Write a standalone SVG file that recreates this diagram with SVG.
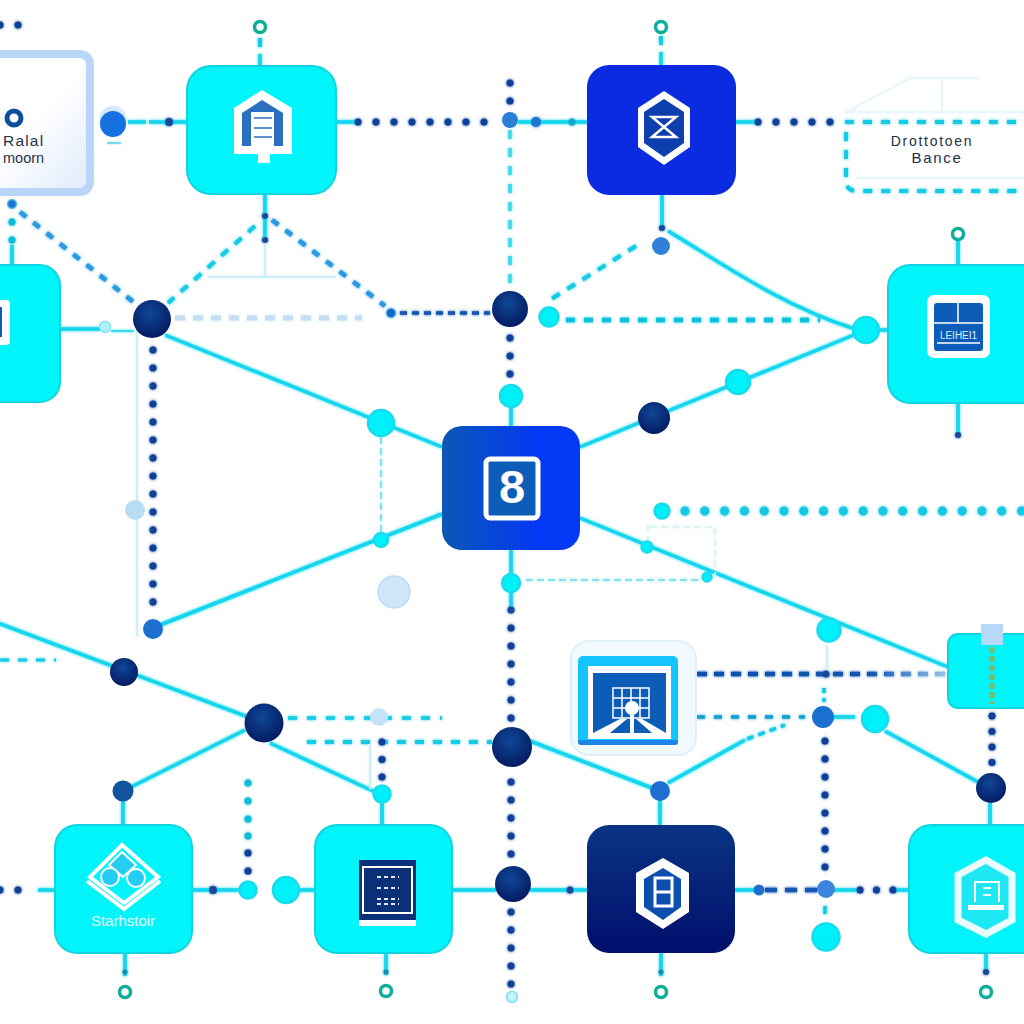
<svg xmlns="http://www.w3.org/2000/svg" width="1024" height="1024" viewBox="0 0 1024 1024">
<style>
text{font-family:"Liberation Sans","DejaVu Sans",sans-serif}
#connectors line,#connectors path{fill:none}
.s{stroke:#12d6ee;stroke-width:3.5}
.th{stroke:#c4ecf8;stroke-width:1.5}
.thd{stroke:#6fdcec;stroke-width:1.5;stroke-dasharray:7 4}
.nd{stroke:#0f3f96;stroke-width:7;stroke-linecap:round;stroke-dasharray:0 18}
.td{stroke:#10bcd8;stroke-width:7;stroke-linecap:round;stroke-dasharray:0 18}
.cd{stroke:#12cbe6;stroke-width:4;stroke-dasharray:9 9}
.bd{stroke:#2a9ae0;stroke-width:4.5;stroke-dasharray:8 9}
.bn{stroke:#1257b0;stroke-width:4.5;stroke-dasharray:10 7}
.pd{stroke:#c4dff5;stroke-width:5;stroke-dasharray:10 8}
.cy{fill:#00f0fa;stroke:#16dcee;stroke-width:2.5}
.box{fill:#00f5fb;stroke:#12d4e0;stroke-width:2}
.navy{fill:url(#gNavy)}
.blue{fill:#1d6fd0}
.pale{fill:#cfe6fa;stroke:#bcdcf5;stroke-width:1.5}
.ring{fill:#fff;stroke:#0cb09a;stroke-width:3.5}
.w{fill:#fff}
.ib{fill:#0d5cb8}
.dot{fill:#124a9e}
</style>
<defs>
<radialGradient id="gNavy" cx="45%" cy="35%" r="70%"><stop offset="0" stop-color="#0f4796"/><stop offset="1" stop-color="#04185f"/></radialGradient>
<linearGradient id="gCenter" x1="0" x2="1" y1="0" y2="0"><stop offset="0" stop-color="#0c58b4"/><stop offset=".7" stop-color="#0338f5"/><stop offset="1" stop-color="#0338f5"/></linearGradient>
<linearGradient id="gDark" x1="0" x2="0" y1="0" y2="1"><stop offset="0" stop-color="#0a3484"/><stop offset="1" stop-color="#000f6c"/></linearGradient>
<linearGradient id="gLabel" x1="0" x2="1" y1="0" y2="1"><stop offset=".5" stop-color="#fff"/><stop offset="1" stop-color="#dfeafb"/></linearGradient>
<linearGradient id="gFade" gradientUnits="userSpaceOnUse" x1="697" y1="0" x2="945" y2="0"><stop offset="0" stop-color="#0f4fae"/><stop offset=".7" stop-color="#1257b0"/><stop offset="1" stop-color="#8fc4ea"/></linearGradient>
<filter id="glow" x="-10%" y="-10%" width="120%" height="120%"><feGaussianBlur stdDeviation="1.6" result="b"/><feMerge><feMergeNode in="b"/><feMergeNode in="SourceGraphic"/></feMerge></filter>
</defs>
<rect width="1024" height="1024" fill="#fff"/>
<g id="connectors" filter="url(#glow)">
<!-- top row -->
<line class="nd" x1="0" y1="25" x2="20" y2="25"/>
<line class="cd" x1="260" y1="38" x2="260" y2="56"/><line class="s" x1="260" y1="54" x2="260" y2="66"/>
<line class="cd" x1="661" y1="36" x2="661" y2="54"/><line class="s" x1="661" y1="52" x2="661" y2="65"/>
<line class="s" stroke-dasharray="18 3" x1="128" y1="122" x2="187" y2="122"/>
<line class="s" x1="336" y1="122" x2="356" y2="122"/><line class="nd" x1="358" y1="122" x2="500" y2="122"/>
<line class="s" x1="518" y1="122" x2="587" y2="122"/>
<line class="s" x1="736" y1="122" x2="756" y2="122"/><line class="nd" x1="758" y1="122" x2="832" y2="122"/>
<path class="cd" d="M845 122H1024"/><path class="cd" d="M846 132V180Q846 191 857 191H1024"/>
<path class="th" d="M850 110L910 78H980M942 78V110M845 112H1024M857 178H1024" style="stroke:#e4f6fa"/>
<!-- centre vertical -->
<line class="nd" x1="510" y1="83" x2="510" y2="112"/>
<line class="cd" x1="510" y1="130" x2="510" y2="292" style="stroke-width:3.5;stroke:#3fd8ec"/>
<line class="nd" x1="510" y1="338" x2="510" y2="376"/>
<line class="s" x1="511" y1="405" x2="511" y2="426"/>
<line class="s" x1="511" y1="550" x2="511" y2="610"/>
<line class="nd" x1="511" y1="628" x2="511" y2="722"/>
<line class="nd" x1="511" y1="782" x2="511" y2="865"/>
<line class="nd" x1="511" y1="912" x2="511" y2="985"/>
<!-- upper left -->
<line class="td" x1="12" y1="222" x2="12" y2="245"/><line class="s" x1="12" y1="245" x2="12" y2="265"/>
<line class="bd" x1="20" y1="212" x2="136" y2="304"/>
<line class="s" x1="265" y1="194" x2="265" y2="216"/><line class="s" stroke-width="2" x1="265" y1="216" x2="265" y2="240"/>
<line class="th" x1="265" y1="240" x2="265" y2="277"/><line class="th" x1="208" y1="277" x2="336" y2="277"/>
<line class="cd" x1="255" y1="226" x2="168" y2="303"/>
<line class="bd" x1="272" y1="220" x2="385" y2="306"/>
<line class="pd" x1="175" y1="318" x2="362" y2="318"/>
<line class="bn" x1="400" y1="313" x2="490" y2="313" style="stroke-width:3.5;stroke-dasharray:7 5"/>
<line class="s" x1="60" y1="329" x2="100" y2="329"/><line class="s" style="stroke-width:1.5" x1="111" y1="331" x2="134" y2="331"/>
<line class="s" x1="165" y1="335" x2="442" y2="447"/>
<line class="nd" x1="153" y1="350" x2="153" y2="612"/>
<line class="th" x1="137" y1="330" x2="137" y2="636"/>
<line class="s" x1="160" y1="625" x2="442" y2="514"/>
<line class="thd" x1="381" y1="437" x2="381" y2="535"/>
<!-- upper right -->
<line class="s" x1="580" y1="447" x2="866" y2="330"/><line class="s" x1="878" y1="330" x2="888" y2="330"/>
<line class="s" x1="662" y1="195" x2="662" y2="228"/>
<path class="s" d="M668 231C720 262 780 305 852 328"/>
<line class="cd" x1="636" y1="246" x2="545" y2="303"/>
<line x1="566" y1="320" x2="820" y2="320" style="stroke:#10c0da;stroke-width:4.5;stroke-dasharray:9 9"/>
<line class="s" x1="958" y1="240" x2="958" y2="265"/>
<line class="s" x1="958" y1="403" x2="958" y2="432"/>
<!-- centre right -->
<line class="s" x1="580" y1="518" x2="948" y2="667"/>
<line class="thd" x1="526" y1="580" x2="700" y2="580"/>
<path class="thd" d="M715 528V575M648 525V540M650 527H715" style="stroke:#d0f2f6"/>
<line class="td" x1="685" y1="511" x2="1024" y2="511" style="stroke:#12c8e4;stroke-width:9;stroke-dasharray:0 19.8"/>
<!-- lower left -->
<line class="s" x1="-5" y1="622" x2="264" y2="723"/>
<line class="cd" x1="0" y1="660" x2="56" y2="660" style="stroke-width:3"/>
<line class="s" x1="245" y1="730" x2="123" y2="791"/><line class="s" x1="123" y1="800" x2="123" y2="825"/>
<line class="s" x1="270" y1="743" x2="375" y2="792"/><line class="s" x1="382" y1="803" x2="382" y2="825"/>
<line class="cd" x1="288" y1="718" x2="442" y2="718" style="stroke-width:3.5;stroke-dasharray:9 10"/>
<line class="cd" x1="307" y1="742" x2="492" y2="742"/>
<line class="th" x1="370" y1="745" x2="370" y2="790"/>
<line class="nd" x1="382" y1="742" x2="382" y2="778" style="stroke-dasharray:0 17.5"/>
<line class="td" x1="248" y1="783" x2="248" y2="820"/><line class="nd" x1="248" y1="853" x2="248" y2="873"/>
<line class="td" x1="248" y1="836" x2="248" y2="837"/>
<!-- lower right -->
<line class="s" x1="530" y1="741" x2="652" y2="788"/>
<line class="s" x1="660" y1="800" x2="660" y2="825"/>
<line class="s" x1="668" y1="783" x2="745" y2="740"/>
<line class="cd" x1="747" y1="739" x2="785" y2="725" style="stroke-width:3.5;stroke-dasharray:7 5"/>
<line class="bn" x1="697" y1="674" x2="945" y2="674" style="stroke:url(#gFade)"/>
<line class="bd" x1="697" y1="717" x2="805" y2="717" style="stroke:#14a0d0;stroke-width:3.5"/>
<line class="s" x1="823" y1="717" x2="855" y2="717"/>
<line class="s" x1="885" y1="731" x2="978" y2="782"/>
<line class="th" x1="827" y1="645" x2="827" y2="672"/>
<line class="cd" x1="824" y1="688" x2="824" y2="702" style="stroke-width:3.5;stroke-dasharray:5 5"/>
<line class="nd" x1="825" y1="741" x2="825" y2="870"/>
<line class="nd" x1="992" y1="716" x2="992" y2="764" style="stroke-dasharray:0 15.5"/>
<line class="s" x1="990" y1="803" x2="990" y2="825"/>
<!-- bottom row -->
<line class="s" x1="38" y1="890" x2="55" y2="890"/>
<line class="nd" x1="0" y1="890" x2="36" y2="890"/>
<line class="s" x1="192" y1="890" x2="240" y2="890"/>
<line class="s" x1="296" y1="890" x2="315" y2="890"/>
<line class="s" x1="452" y1="890" x2="496" y2="890"/>
<line class="s" x1="530" y1="890" x2="587" y2="890"/>
<line class="s" x1="735" y1="890" x2="755" y2="890"/>
<line class="bn" x1="765" y1="890" x2="820" y2="890" style="stroke-dasharray:12 8"/>
<line class="s" x1="832" y1="890" x2="860" y2="890"/><line class="s" x1="893" y1="890" x2="909" y2="890"/>
<line class="nd" x1="860" y1="890" x2="895" y2="890" style="stroke-dasharray:0 16.5"/>
<line class="cd" x1="825" y1="906" x2="825" y2="914" style="stroke-width:3.5"/>
<line class="s" x1="125" y1="953" x2="125" y2="976"/>
<line class="s" x1="386" y1="953" x2="386" y2="975"/>
<line class="s" x1="661" y1="953" x2="661" y2="976"/>
<line class="s" x1="986" y1="953" x2="986" y2="972"/>
<g id="connector-dots" class="dot">
<circle cx="169" cy="122" r="4"/><circle cx="536" cy="122" r="5" fill="#1d75cc"/><circle cx="572" cy="122" r="3.5" fill="#11a8cc"/>
<circle cx="265" cy="216" r="3"/><circle cx="265" cy="240" r="3"/><circle cx="662" cy="228" r="3"/>
<circle cx="958" cy="435" r="3"/><circle cx="511" cy="610" r="3.5"/>
<circle cx="213" cy="890" r="4"/><circle cx="570" cy="890" r="3.5"/><circle cx="125" cy="972" r="2.5" fill="#0f8fb0"/><circle cx="386" cy="972" r="2.5" fill="#0f8fb0"/>
<circle cx="661" cy="972" r="2.5" fill="#0f8fb0"/><circle cx="986" cy="972" r="3"/><circle cx="826" cy="674" r="3.5"/>
</g>
</g>

<!-- junctions -->
<g id="j-top-1"><circle cx="260" cy="27" r="5.5" class="ring"/></g>
<g id="j-top-2"><circle cx="661" cy="27" r="5.5" class="ring"/></g>
<g id="j-ports"><circle cx="958" cy="234" r="5.5" class="ring"/><circle cx="125" cy="992" r="5.5" class="ring"/><circle cx="386" cy="991" r="5.5" class="ring"/><circle cx="661" cy="992" r="5.5" class="ring"/><circle cx="986" cy="992" r="5.5" class="ring"/></g>
<g id="j-bulb"><circle cx="113" cy="120" r="14" fill="#d3e8fb"/><circle cx="113" cy="124" r="13" fill="#1570e0"/><line x1="107" y1="143" x2="121" y2="143" stroke="#7ed8ee" stroke-width="2.5"/></g>
<g id="j-a"><circle cx="12" cy="204" r="4.5" fill="#1678d0" stroke="#5cc0ee" stroke-width="1.5"/></g>
<g id="j-b"><circle cx="152" cy="319" r="19" class="navy"/></g>
<g id="j-c"><circle cx="105" cy="327" r="5.5" fill="#b4f0f8" stroke="#7fe2f2" stroke-width="1.5"/></g>
<g id="j-d"><circle cx="391" cy="313" r="5" fill="#1569c8" stroke="#7cc8f0" stroke-width="1.5"/></g>
<g id="j-e"><circle cx="510" cy="120" r="8" fill="#2a7fd6"/></g>
<g id="j-f"><circle cx="510" cy="309" r="18" class="navy"/></g>
<g id="j-g"><circle cx="511" cy="396" r="11" class="cy"/></g>
<g id="j-h"><circle cx="381" cy="423" r="13" class="cy"/></g>
<g id="j-i"><circle cx="381" cy="540" r="7" class="cy"/></g>
<g id="j-j"><circle cx="135" cy="510" r="10" fill="#b9dcf5"/></g>
<g id="j-k"><circle cx="153" cy="629" r="10" class="blue"/></g>
<g id="j-l"><circle cx="394" cy="592" r="16" class="pale"/></g>
<g id="j-m"><circle cx="661" cy="246" r="9" fill="#2f80d8"/></g>
<g id="j-n"><circle cx="549" cy="317" r="9.5" class="cy"/></g>
<g id="j-o"><circle cx="866" cy="330" r="13" class="cy"/></g>
<g id="j-p"><circle cx="738" cy="382" r="12" class="cy"/></g>
<g id="j-q"><circle cx="654" cy="418" r="16" class="navy"/></g>
<g id="j-r"><circle cx="511" cy="583" r="9" class="cy"/></g>
<g id="j-s"><circle cx="647" cy="547" r="5.5" class="cy"/></g>
<g id="j-t"><circle cx="707" cy="577" r="4.5" class="cy"/></g>
<g id="j-u"><circle cx="662" cy="511" r="7.5" class="cy"/></g>
<g id="j-v"><circle cx="829" cy="630" r="11.5" class="cy"/></g>
<g id="j-w"><circle cx="124" cy="672" r="14" class="navy"/></g>
<g id="j-x"><circle cx="264" cy="723" r="19.5" class="navy"/></g>
<g id="j-y"><circle cx="379" cy="717" r="9" fill="#c6e2f8"/></g>
<g id="j-z"><circle cx="123" cy="791" r="10.5" fill="#12539f"/></g>
<g id="j-aa"><circle cx="382" cy="794" r="8.5" class="cy"/></g>
<g id="j-ab"><circle cx="512" cy="747" r="20" class="navy"/></g>
<g id="j-ac"><circle cx="513" cy="884" r="18" class="navy"/></g>
<g id="j-ad"><circle cx="512" cy="997" r="5.5" fill="#c4f4fa" stroke="#7fe2ee" stroke-width="1.5"/></g>
<g id="j-ae"><circle cx="248" cy="890" r="8.5" class="cy"/></g>
<g id="j-af"><circle cx="286" cy="890" r="13" class="cy"/></g>
<g id="j-ag"><circle cx="660" cy="791" r="10" class="blue"/></g>
<g id="j-ah"><circle cx="823" cy="717" r="11" fill="#1a6fd0"/></g>
<g id="j-ai"><circle cx="875" cy="719" r="13" class="cy"/></g>
<g id="j-aj"><circle cx="991" cy="788" r="15" class="navy"/></g>
<g id="j-ak"><circle cx="759" cy="890" r="5.5" fill="#1d6fd0"/></g>
<g id="j-al"><circle cx="826" cy="889" r="9" fill="#3a86de"/></g>
<g id="j-am"><circle cx="826" cy="937" r="13.5" class="cy"/></g>

<!-- label left -->
<g id="label-left">
<rect x="-30" y="54" width="120" height="138" rx="10" fill="url(#gLabel)" stroke="#b9d6f8" stroke-width="8"/>
<circle cx="14" cy="118" r="7" fill="#fff" stroke="#0d4f9e" stroke-width="5"/>
<text x="3" y="146" font-size="15.500" letter-spacing="1.200" fill="#26324a">Ralal</text>
<text x="3" y="163" font-size="14.500" fill="#26324a">moorn</text>
</g>

<g id="label-right">
<text x="932" y="146" font-size="14" letter-spacing="1.700" text-anchor="middle" fill="#22304a">Drottotoen</text>
<text x="937" y="163" font-size="15" letter-spacing="1.700" text-anchor="middle" fill="#22304a">Bance</text>
</g>

<g id="node-house">
<rect x="187" y="66" width="149" height="128" rx="24" class="box"/>
<path class="w" d="M262 90L292 108V154H270V163H258V154H234V108Z"/>
<path fill="#2a6fc0" d="M262 100L283 113V146H242V113Z"/>
<rect x="251" y="112" width="23" height="34" class="w"/>
<path d="M254 118H272M254 128H272M254 137H272" stroke="#2a6fc0" stroke-width="1.5"/>
</g>

<g id="node-hourglass">
<rect x="587" y="65" width="149" height="130" rx="22" fill="#0a2be0"/>
<path class="w" d="M664 91L690 108V147L664 165L638 147V108Z"/>
<path fill="#0e3fae" d="M664 99L684 112V143L664 157L644 143V112Z"/>
<path d="M652 117H676L652 137H676Z" fill="none" stroke="#fff" stroke-width="2.5"/>
</g>

<g id="node-left">
<rect x="-60" y="265" width="120" height="137" rx="20" class="box"/>
<rect x="-12" y="300" width="22" height="45" rx="4" class="w"/>
<rect x="-12" y="307" width="14" height="30" class="ib"/>
</g>

<g id="node-right">
<rect x="888" y="265" width="170" height="138" rx="22" class="box"/>
<rect x="927" y="295" width="63" height="63" rx="7" class="w"/>
<rect x="934" y="303" width="49" height="48" rx="3" class="ib"/>
<path d="M958 303V323M934 323H983M937 343H980" stroke="#fff" stroke-width="1.5"/>
<text x="958.500" y="339" font-size="10" text-anchor="middle" fill="#d8f2ff">LEIHEI1</text>
</g>

<g id="node-center">
<rect x="442" y="426" width="138" height="124" rx="20" fill="url(#gCenter)"/>
<rect x="486" y="459" width="52" height="59" rx="4" fill="#0d5cb8" stroke="#fff" stroke-width="5"/>
<text x="512" y="503" font-size="47" font-weight="700" text-anchor="middle" fill="#fff">8</text>
</g>

<g id="node-small-right">
<rect x="948" y="634" width="100" height="74" rx="10" class="box"/>
<line x1="992" y1="647" x2="992" y2="704" stroke="#7fb86a" stroke-width="5" stroke-dasharray="6 3"/>
<rect x="981" y="624" width="22" height="21" fill="#b8d8f8"/>
</g>

<g id="node-picture">
<rect x="571" y="641" width="125" height="114" rx="18" fill="#f3fafe" stroke="#e0f0fa" stroke-width="2"/>
<rect x="578" y="656" width="100" height="89" rx="5" fill="#14c4ff"/>
<path d="M578 740H678V742Q678 745 675 745H581Q578 745 578 742Z" fill="#1c86e8"/>
<rect x="588" y="666" width="83" height="73" class="w"/>
<rect x="593" y="673" width="73" height="60" class="ib"/>
<path d="M613 688H649V718H613ZM622 688V718M631 688V718M640 688V718M613 698H649M613 708H649" fill="none" stroke="#fff" stroke-width="1.5"/>
<circle cx="632" cy="708" r="7" fill="#fff"/>
<path d="M593 733L620 719H627L610 733ZM666 733L642 719H636L652 733Z" class="w"/>
<rect x="630" y="714" width="4" height="19" fill="#fff"/>
</g>

<g id="node-star">
<rect x="55" y="825" width="137" height="128" rx="22" class="box"/>
<path d="M122 845L158 877L124 903L90 877Z" fill="none" stroke="#fff" stroke-width="4"/>
<path d="M87 881L124 909L160 881" fill="none" stroke="#fff" stroke-width="4"/>
<path d="M122 852L136 865L123 877L109 865Z" fill="#25cdf2" stroke="#fff" stroke-width="2"/>
<circle cx="110" cy="877" r="9" fill="#25cdf2" stroke="#fff" stroke-width="2"/><circle cx="136" cy="878" r="9" fill="#25cdf2" stroke="#fff" stroke-width="2"/>
<text x="123" y="926" font-size="15" text-anchor="middle" fill="#eafdff">Starhstoir</text>
</g>

<g id="node-list">
<rect x="315" y="825" width="137" height="128" rx="22" class="box"/>
<rect x="359" y="860" width="57" height="66" class="w"/>
<rect x="359" y="860" width="57" height="60" fill="#0b2f78"/>
<rect x="363" y="867" width="49" height="46" fill="none" stroke="#fff" stroke-width="2"/>
<path d="M377 877H399M377 888H399M377 899H399M377 904H399" stroke="#dfe9ff" stroke-width="2" stroke-dasharray="4 3"/>
</g>

<g id="node-dark">
<rect x="587" y="825" width="148" height="128" rx="22" fill="url(#gDark)"/>
<path class="w" d="M663 858L689 873V912L663 929L636 912V873Z"/>
<path fill="#0d4fae" d="M663 868L681 879V907L663 920L644 907V879Z"/>
<rect x="655" y="878" width="17" height="28" fill="none" stroke="#fff" stroke-width="3"/>
<line x1="655" y1="892" x2="672" y2="892" stroke="#fff" stroke-width="3"/>
</g>

<g id="node-corner">
<rect x="909" y="825" width="150" height="128" rx="22" class="box"/>
<path d="M986 860L1012 875V920L986 934L958 920V875Z" fill="#1de8f4" stroke="#e9fdff" stroke-width="7"/>
<path d="M975 902V882H999V902" fill="none" stroke="#fff" stroke-width="2"/>
<path d="M983 888H991M983 895H991" stroke="#fff" stroke-width="2"/>
<rect x="968" y="905" width="36" height="5" fill="#fff"/>
</g>
</svg>
